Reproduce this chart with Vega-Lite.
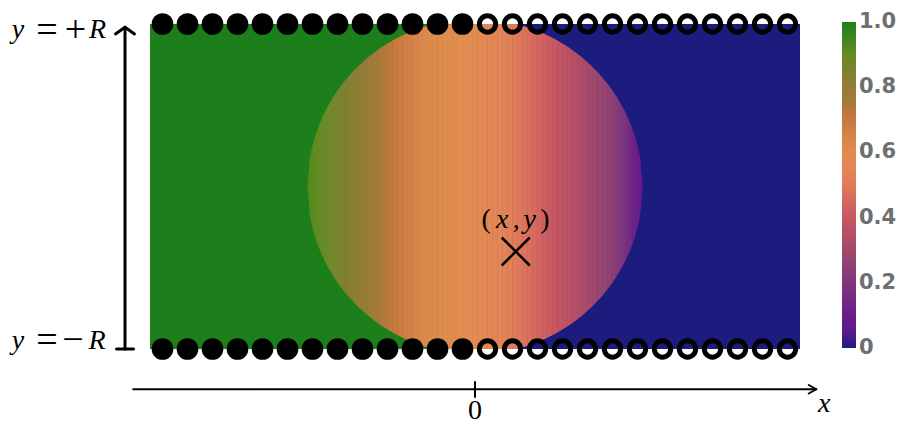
{
"$schema": "https://vega.github.io/schema/vega-lite/v6.json",
"width": 650, "height": 325,
"autosize": {"type": "none"},
"padding": {"left": 150, "top": 24, "right": 101, "bottom": 75},
"background": "white",
"config": {"view": {"stroke": null}},
"datasets": {
"outside": [
{"a":-13,"b":0,"lo":-6.5,"hi":6.5,"v":1},
{"a":0,"b":13,"lo":-6.5,"hi":6.5,"v":0}
],
"disk": [
{"s":1,"x":-6.7,"lo":0,"hi":0,"v":0.927},{"s":1,"x":-6.6,"lo":-1.153,"hi":1.153,"v":0.927},
{"s":2,"x":-6.6,"lo":-1.153,"hi":1.153,"v":0.921},{"s":2,"x":-6.5,"lo":-1.625,"hi":1.625,"v":0.921},
{"s":3,"x":-6.5,"lo":-1.625,"hi":1.625,"v":0.915},{"s":3,"x":-6.4,"lo":-1.982,"hi":1.982,"v":0.915},
{"s":4,"x":-6.4,"lo":-1.982,"hi":1.982,"v":0.909},{"s":4,"x":-6.3,"lo":-2.28,"hi":2.28,"v":0.909},
{"s":5,"x":-6.3,"lo":-2.28,"hi":2.28,"v":0.903},{"s":5,"x":-6.2,"lo":-2.54,"hi":2.54,"v":0.903},
{"s":6,"x":-6.2,"lo":-2.54,"hi":2.54,"v":0.897},{"s":6,"x":-6.1,"lo":-2.771,"hi":2.771,"v":0.897},
{"s":7,"x":-6.1,"lo":-2.771,"hi":2.771,"v":0.891},{"s":7,"x":-6,"lo":-2.982,"hi":2.982,"v":0.891},
{"s":8,"x":-6,"lo":-2.982,"hi":2.982,"v":0.885},{"s":8,"x":-5.9,"lo":-3.175,"hi":3.175,"v":0.885},
{"s":9,"x":-5.9,"lo":-3.175,"hi":3.175,"v":0.879},{"s":9,"x":-5.8,"lo":-3.354,"hi":3.354,"v":0.879},
{"s":10,"x":-5.8,"lo":-3.354,"hi":3.354,"v":0.873},{"s":10,"x":-5.7,"lo":-3.521,"hi":3.521,"v":0.873},
{"s":11,"x":-5.7,"lo":-3.521,"hi":3.521,"v":0.867},{"s":11,"x":-5.6,"lo":-3.678,"hi":3.678,"v":0.867},
{"s":12,"x":-5.6,"lo":-3.678,"hi":3.678,"v":0.861},{"s":12,"x":-5.5,"lo":-3.826,"hi":3.826,"v":0.861},
{"s":13,"x":-5.5,"lo":-3.826,"hi":3.826,"v":0.856},{"s":13,"x":-5.4,"lo":-3.966,"hi":3.966,"v":0.856},
{"s":14,"x":-5.4,"lo":-3.966,"hi":3.966,"v":0.85},{"s":14,"x":-5.3,"lo":-4.099,"hi":4.099,"v":0.85},
{"s":15,"x":-5.3,"lo":-4.099,"hi":4.099,"v":0.844},{"s":15,"x":-5.2,"lo":-4.225,"hi":4.225,"v":0.844},
{"s":16,"x":-5.2,"lo":-4.225,"hi":4.225,"v":0.838},{"s":16,"x":-5.1,"lo":-4.345,"hi":4.345,"v":0.838},
{"s":17,"x":-5.1,"lo":-4.345,"hi":4.345,"v":0.832},{"s":17,"x":-5,"lo":-4.46,"hi":4.46,"v":0.832},
{"s":18,"x":-5,"lo":-4.46,"hi":4.46,"v":0.826},{"s":18,"x":-4.9,"lo":-4.569,"hi":4.569,"v":0.826},
{"s":19,"x":-4.9,"lo":-4.569,"hi":4.569,"v":0.82},{"s":19,"x":-4.8,"lo":-4.674,"hi":4.674,"v":0.82},
{"s":20,"x":-4.8,"lo":-4.674,"hi":4.674,"v":0.815},{"s":20,"x":-4.7,"lo":-4.775,"hi":4.775,"v":0.815},
{"s":21,"x":-4.7,"lo":-4.775,"hi":4.775,"v":0.809},{"s":21,"x":-4.6,"lo":-4.871,"hi":4.871,"v":0.809},
{"s":22,"x":-4.6,"lo":-4.871,"hi":4.871,"v":0.803},{"s":22,"x":-4.5,"lo":-4.964,"hi":4.964,"v":0.803},
{"s":23,"x":-4.5,"lo":-4.964,"hi":4.964,"v":0.796},{"s":23,"x":-4.4,"lo":-5.053,"hi":5.053,"v":0.796},
{"s":24,"x":-4.4,"lo":-5.053,"hi":5.053,"v":0.789},{"s":24,"x":-4.3,"lo":-5.138,"hi":5.138,"v":0.789},
{"s":25,"x":-4.3,"lo":-5.138,"hi":5.138,"v":0.781},{"s":25,"x":-4.2,"lo":-5.22,"hi":5.22,"v":0.781},
{"s":26,"x":-4.2,"lo":-5.22,"hi":5.22,"v":0.773},{"s":26,"x":-4.1,"lo":-5.299,"hi":5.299,"v":0.773},
{"s":27,"x":-4.1,"lo":-5.299,"hi":5.299,"v":0.766},{"s":27,"x":-4,"lo":-5.375,"hi":5.375,"v":0.766},
{"s":28,"x":-4,"lo":-5.375,"hi":5.375,"v":0.758},{"s":28,"x":-3.9,"lo":-5.448,"hi":5.448,"v":0.758},
{"s":29,"x":-3.9,"lo":-5.448,"hi":5.448,"v":0.751},{"s":29,"x":-3.8,"lo":-5.518,"hi":5.518,"v":0.751},
{"s":30,"x":-3.8,"lo":-5.518,"hi":5.518,"v":0.743},{"s":30,"x":-3.7,"lo":-5.586,"hi":5.586,"v":0.743},
{"s":31,"x":-3.7,"lo":-5.586,"hi":5.586,"v":0.736},{"s":31,"x":-3.6,"lo":-5.651,"hi":5.651,"v":0.736},
{"s":32,"x":-3.6,"lo":-5.651,"hi":5.651,"v":0.728},{"s":32,"x":-3.5,"lo":-5.713,"hi":5.713,"v":0.728},
{"s":33,"x":-3.5,"lo":-5.713,"hi":5.713,"v":0.72},{"s":33,"x":-3.4,"lo":-5.773,"hi":5.773,"v":0.72},
{"s":34,"x":-3.4,"lo":-5.773,"hi":5.773,"v":0.713},{"s":34,"x":-3.3,"lo":-5.831,"hi":5.831,"v":0.713},
{"s":35,"x":-3.3,"lo":-5.831,"hi":5.831,"v":0.705},{"s":35,"x":-3.2,"lo":-5.886,"hi":5.886,"v":0.705},
{"s":36,"x":-3.2,"lo":-5.886,"hi":5.886,"v":0.698},{"s":36,"x":-3.1,"lo":-5.94,"hi":5.94,"v":0.698},
{"s":37,"x":-3.1,"lo":-5.94,"hi":5.94,"v":0.692},{"s":37,"x":-3,"lo":-5.991,"hi":5.991,"v":0.692},
{"s":38,"x":-3,"lo":-5.991,"hi":5.991,"v":0.686},{"s":38,"x":-2.9,"lo":-6.04,"hi":6.04,"v":0.686},
{"s":39,"x":-2.9,"lo":-6.04,"hi":6.04,"v":0.68},{"s":39,"x":-2.8,"lo":-6.087,"hi":6.087,"v":0.68},
{"s":40,"x":-2.8,"lo":-6.087,"hi":6.087,"v":0.674},{"s":40,"x":-2.7,"lo":-6.132,"hi":6.132,"v":0.674},
{"s":41,"x":-2.7,"lo":-6.132,"hi":6.132,"v":0.668},{"s":41,"x":-2.6,"lo":-6.175,"hi":6.175,"v":0.668},
{"s":42,"x":-2.6,"lo":-6.175,"hi":6.175,"v":0.662},{"s":42,"x":-2.5,"lo":-6.216,"hi":6.216,"v":0.662},
{"s":43,"x":-2.5,"lo":-6.216,"hi":6.216,"v":0.656},{"s":43,"x":-2.4,"lo":-6.255,"hi":6.255,"v":0.656},
{"s":44,"x":-2.4,"lo":-6.255,"hi":6.255,"v":0.65},{"s":44,"x":-2.3,"lo":-6.293,"hi":6.293,"v":0.65},
{"s":45,"x":-2.3,"lo":-6.293,"hi":6.293,"v":0.644},{"s":45,"x":-2.2,"lo":-6.329,"hi":6.329,"v":0.644},
{"s":46,"x":-2.2,"lo":-6.329,"hi":6.329,"v":0.638},{"s":46,"x":-2.1,"lo":-6.362,"hi":6.362,"v":0.638},
{"s":47,"x":-2.1,"lo":-6.362,"hi":6.362,"v":0.632},{"s":47,"x":-2,"lo":-6.395,"hi":6.395,"v":0.632},
{"s":48,"x":-2,"lo":-6.395,"hi":6.395,"v":0.625},{"s":48,"x":-1.9,"lo":-6.425,"hi":6.425,"v":0.625},
{"s":49,"x":-1.9,"lo":-6.425,"hi":6.425,"v":0.62},{"s":49,"x":-1.8,"lo":-6.454,"hi":6.454,"v":0.62},
{"s":50,"x":-1.8,"lo":-6.454,"hi":6.454,"v":0.617},{"s":50,"x":-1.7,"lo":-6.481,"hi":6.481,"v":0.617},
{"s":51,"x":-1.7,"lo":-6.481,"hi":6.481,"v":0.615},{"s":51,"x":-1.6,"lo":-6.5,"hi":6.5,"v":0.615},
{"s":52,"x":-1.6,"lo":-6.5,"hi":6.5,"v":0.612},{"s":52,"x":-1.5,"lo":-6.5,"hi":6.5,"v":0.612},
{"s":53,"x":-1.5,"lo":-6.5,"hi":6.5,"v":0.61},{"s":53,"x":-1.4,"lo":-6.5,"hi":6.5,"v":0.61},
{"s":54,"x":-1.4,"lo":-6.5,"hi":6.5,"v":0.607},{"s":54,"x":-1.3,"lo":-6.5,"hi":6.5,"v":0.607},
{"s":55,"x":-1.3,"lo":-6.5,"hi":6.5,"v":0.605},{"s":55,"x":-1.2,"lo":-6.5,"hi":6.5,"v":0.605},
{"s":56,"x":-1.2,"lo":-6.5,"hi":6.5,"v":0.602},{"s":56,"x":-1.1,"lo":-6.5,"hi":6.5,"v":0.602},
{"s":57,"x":-1.1,"lo":-6.5,"hi":6.5,"v":0.6},{"s":57,"x":-1,"lo":-6.5,"hi":6.5,"v":0.6},
{"s":58,"x":-1,"lo":-6.5,"hi":6.5,"v":0.597},{"s":58,"x":-0.9,"lo":-6.5,"hi":6.5,"v":0.597},
{"s":59,"x":-0.9,"lo":-6.5,"hi":6.5,"v":0.595},{"s":59,"x":-0.8,"lo":-6.5,"hi":6.5,"v":0.595},
{"s":60,"x":-0.8,"lo":-6.5,"hi":6.5,"v":0.592},{"s":60,"x":-0.7,"lo":-6.5,"hi":6.5,"v":0.592},
{"s":61,"x":-0.7,"lo":-6.5,"hi":6.5,"v":0.59},{"s":61,"x":-0.6,"lo":-6.5,"hi":6.5,"v":0.59},
{"s":62,"x":-0.6,"lo":-6.5,"hi":6.5,"v":0.587},{"s":62,"x":-0.5,"lo":-6.5,"hi":6.5,"v":0.587},
{"s":63,"x":-0.5,"lo":-6.5,"hi":6.5,"v":0.585},{"s":63,"x":-0.4,"lo":-6.5,"hi":6.5,"v":0.585},
{"s":64,"x":-0.4,"lo":-6.5,"hi":6.5,"v":0.582},{"s":64,"x":-0.3,"lo":-6.5,"hi":6.5,"v":0.582},
{"s":65,"x":-0.3,"lo":-6.5,"hi":6.5,"v":0.58},{"s":65,"x":-0.2,"lo":-6.5,"hi":6.5,"v":0.58},
{"s":66,"x":-0.2,"lo":-6.5,"hi":6.5,"v":0.577},{"s":66,"x":-0.1,"lo":-6.5,"hi":6.5,"v":0.577},
{"s":67,"x":-0.1,"lo":-6.5,"hi":6.5,"v":0.574},{"s":67,"x":0,"lo":-6.5,"hi":6.5,"v":0.574},
{"s":68,"x":0,"lo":-6.5,"hi":6.5,"v":0.571},{"s":68,"x":0.1,"lo":-6.5,"hi":6.5,"v":0.571},
{"s":69,"x":0.1,"lo":-6.5,"hi":6.5,"v":0.569},{"s":69,"x":0.2,"lo":-6.5,"hi":6.5,"v":0.569},
{"s":70,"x":0.2,"lo":-6.5,"hi":6.5,"v":0.566},{"s":70,"x":0.3,"lo":-6.5,"hi":6.5,"v":0.566},
{"s":71,"x":0.3,"lo":-6.5,"hi":6.5,"v":0.563},{"s":71,"x":0.4,"lo":-6.5,"hi":6.5,"v":0.563},
{"s":72,"x":0.4,"lo":-6.5,"hi":6.5,"v":0.56},{"s":72,"x":0.5,"lo":-6.5,"hi":6.5,"v":0.56},
{"s":73,"x":0.5,"lo":-6.5,"hi":6.5,"v":0.557},{"s":73,"x":0.6,"lo":-6.5,"hi":6.5,"v":0.557},
{"s":74,"x":0.6,"lo":-6.5,"hi":6.5,"v":0.554},{"s":74,"x":0.7,"lo":-6.5,"hi":6.5,"v":0.554},
{"s":75,"x":0.7,"lo":-6.5,"hi":6.5,"v":0.551},{"s":75,"x":0.8,"lo":-6.5,"hi":6.5,"v":0.551},
{"s":76,"x":0.8,"lo":-6.5,"hi":6.5,"v":0.548},{"s":76,"x":0.9,"lo":-6.5,"hi":6.5,"v":0.548},
{"s":77,"x":0.9,"lo":-6.5,"hi":6.5,"v":0.545},{"s":77,"x":1,"lo":-6.5,"hi":6.5,"v":0.545},
{"s":78,"x":1,"lo":-6.5,"hi":6.5,"v":0.543},{"s":78,"x":1.1,"lo":-6.5,"hi":6.5,"v":0.543},
{"s":79,"x":1.1,"lo":-6.5,"hi":6.5,"v":0.539},{"s":79,"x":1.2,"lo":-6.5,"hi":6.5,"v":0.539},
{"s":80,"x":1.2,"lo":-6.5,"hi":6.5,"v":0.533},{"s":80,"x":1.3,"lo":-6.5,"hi":6.5,"v":0.533},
{"s":81,"x":1.3,"lo":-6.5,"hi":6.5,"v":0.526},{"s":81,"x":1.4,"lo":-6.5,"hi":6.5,"v":0.526},
{"s":82,"x":1.4,"lo":-6.5,"hi":6.5,"v":0.52},{"s":82,"x":1.5,"lo":-6.5,"hi":6.5,"v":0.52},
{"s":83,"x":1.5,"lo":-6.5,"hi":6.5,"v":0.513},{"s":83,"x":1.6,"lo":-6.5,"hi":6.5,"v":0.513},
{"s":84,"x":1.6,"lo":-6.5,"hi":6.5,"v":0.506},{"s":84,"x":1.7,"lo":-6.481,"hi":6.481,"v":0.506},
{"s":85,"x":1.7,"lo":-6.481,"hi":6.481,"v":0.5},{"s":85,"x":1.8,"lo":-6.454,"hi":6.454,"v":0.5},
{"s":86,"x":1.8,"lo":-6.454,"hi":6.454,"v":0.493},{"s":86,"x":1.9,"lo":-6.425,"hi":6.425,"v":0.493},
{"s":87,"x":1.9,"lo":-6.425,"hi":6.425,"v":0.486},{"s":87,"x":2,"lo":-6.395,"hi":6.395,"v":0.486},
{"s":88,"x":2,"lo":-6.395,"hi":6.395,"v":0.48},{"s":88,"x":2.1,"lo":-6.362,"hi":6.362,"v":0.48},
{"s":89,"x":2.1,"lo":-6.362,"hi":6.362,"v":0.473},{"s":89,"x":2.2,"lo":-6.329,"hi":6.329,"v":0.473},
{"s":90,"x":2.2,"lo":-6.329,"hi":6.329,"v":0.467},{"s":90,"x":2.3,"lo":-6.293,"hi":6.293,"v":0.467},
{"s":91,"x":2.3,"lo":-6.293,"hi":6.293,"v":0.46},{"s":91,"x":2.4,"lo":-6.255,"hi":6.255,"v":0.46},
{"s":92,"x":2.4,"lo":-6.255,"hi":6.255,"v":0.453},{"s":92,"x":2.5,"lo":-6.216,"hi":6.216,"v":0.453},
{"s":93,"x":2.5,"lo":-6.216,"hi":6.216,"v":0.447},{"s":93,"x":2.6,"lo":-6.175,"hi":6.175,"v":0.447},
{"s":94,"x":2.6,"lo":-6.175,"hi":6.175,"v":0.44},{"s":94,"x":2.7,"lo":-6.132,"hi":6.132,"v":0.44},
{"s":95,"x":2.7,"lo":-6.132,"hi":6.132,"v":0.433},{"s":95,"x":2.8,"lo":-6.087,"hi":6.087,"v":0.433},
{"s":96,"x":2.8,"lo":-6.087,"hi":6.087,"v":0.427},{"s":96,"x":2.9,"lo":-6.04,"hi":6.04,"v":0.427},
{"s":97,"x":2.9,"lo":-6.04,"hi":6.04,"v":0.42},{"s":97,"x":3,"lo":-5.991,"hi":5.991,"v":0.42},
{"s":98,"x":3,"lo":-5.991,"hi":5.991,"v":0.413},{"s":98,"x":3.1,"lo":-5.94,"hi":5.94,"v":0.413},
{"s":99,"x":3.1,"lo":-5.94,"hi":5.94,"v":0.407},{"s":99,"x":3.2,"lo":-5.886,"hi":5.886,"v":0.407},
{"s":100,"x":3.2,"lo":-5.886,"hi":5.886,"v":0.4},{"s":100,"x":3.3,"lo":-5.831,"hi":5.831,"v":0.4},
{"s":101,"x":3.3,"lo":-5.831,"hi":5.831,"v":0.393},{"s":101,"x":3.4,"lo":-5.773,"hi":5.773,"v":0.393},
{"s":102,"x":3.4,"lo":-5.773,"hi":5.773,"v":0.387},{"s":102,"x":3.5,"lo":-5.713,"hi":5.713,"v":0.387},
{"s":103,"x":3.5,"lo":-5.713,"hi":5.713,"v":0.38},{"s":103,"x":3.6,"lo":-5.651,"hi":5.651,"v":0.38},
{"s":104,"x":3.6,"lo":-5.651,"hi":5.651,"v":0.373},{"s":104,"x":3.7,"lo":-5.586,"hi":5.586,"v":0.373},
{"s":105,"x":3.7,"lo":-5.586,"hi":5.586,"v":0.367},{"s":105,"x":3.8,"lo":-5.518,"hi":5.518,"v":0.367},
{"s":106,"x":3.8,"lo":-5.518,"hi":5.518,"v":0.36},{"s":106,"x":3.9,"lo":-5.448,"hi":5.448,"v":0.36},
{"s":107,"x":3.9,"lo":-5.448,"hi":5.448,"v":0.353},{"s":107,"x":4,"lo":-5.375,"hi":5.375,"v":0.353},
{"s":108,"x":4,"lo":-5.375,"hi":5.375,"v":0.347},{"s":108,"x":4.1,"lo":-5.299,"hi":5.299,"v":0.347},
{"s":109,"x":4.1,"lo":-5.299,"hi":5.299,"v":0.34},{"s":109,"x":4.2,"lo":-5.22,"hi":5.22,"v":0.34},
{"s":110,"x":4.2,"lo":-5.22,"hi":5.22,"v":0.333},{"s":110,"x":4.3,"lo":-5.138,"hi":5.138,"v":0.333},
{"s":111,"x":4.3,"lo":-5.138,"hi":5.138,"v":0.327},{"s":111,"x":4.4,"lo":-5.053,"hi":5.053,"v":0.327},
{"s":112,"x":4.4,"lo":-5.053,"hi":5.053,"v":0.32},{"s":112,"x":4.5,"lo":-4.964,"hi":4.964,"v":0.32},
{"s":113,"x":4.5,"lo":-4.964,"hi":4.964,"v":0.313},{"s":113,"x":4.6,"lo":-4.871,"hi":4.871,"v":0.313},
{"s":114,"x":4.6,"lo":-4.871,"hi":4.871,"v":0.307},{"s":114,"x":4.7,"lo":-4.775,"hi":4.775,"v":0.307},
{"s":115,"x":4.7,"lo":-4.775,"hi":4.775,"v":0.3},{"s":115,"x":4.8,"lo":-4.674,"hi":4.674,"v":0.3},
{"s":116,"x":4.8,"lo":-4.674,"hi":4.674,"v":0.293},{"s":116,"x":4.9,"lo":-4.569,"hi":4.569,"v":0.293},
{"s":117,"x":4.9,"lo":-4.569,"hi":4.569,"v":0.286},{"s":117,"x":5,"lo":-4.46,"hi":4.46,"v":0.286},
{"s":118,"x":5,"lo":-4.46,"hi":4.46,"v":0.278},{"s":118,"x":5.1,"lo":-4.345,"hi":4.345,"v":0.278},
{"s":119,"x":5.1,"lo":-4.345,"hi":4.345,"v":0.27},{"s":119,"x":5.2,"lo":-4.225,"hi":4.225,"v":0.27},
{"s":120,"x":5.2,"lo":-4.225,"hi":4.225,"v":0.263},{"s":120,"x":5.3,"lo":-4.099,"hi":4.099,"v":0.263},
{"s":121,"x":5.3,"lo":-4.099,"hi":4.099,"v":0.255},{"s":121,"x":5.4,"lo":-3.966,"hi":3.966,"v":0.255},
{"s":122,"x":5.4,"lo":-3.966,"hi":3.966,"v":0.247},{"s":122,"x":5.5,"lo":-3.826,"hi":3.826,"v":0.247},
{"s":123,"x":5.5,"lo":-3.826,"hi":3.826,"v":0.239},{"s":123,"x":5.6,"lo":-3.678,"hi":3.678,"v":0.239},
{"s":124,"x":5.6,"lo":-3.678,"hi":3.678,"v":0.226},{"s":124,"x":5.7,"lo":-3.521,"hi":3.521,"v":0.226},
{"s":125,"x":5.7,"lo":-3.521,"hi":3.521,"v":0.214},{"s":125,"x":5.8,"lo":-3.354,"hi":3.354,"v":0.214},
{"s":126,"x":5.8,"lo":-3.354,"hi":3.354,"v":0.201},{"s":126,"x":5.9,"lo":-3.175,"hi":3.175,"v":0.201},
{"s":127,"x":5.9,"lo":-3.175,"hi":3.175,"v":0.189},{"s":127,"x":6,"lo":-2.982,"hi":2.982,"v":0.189},
{"s":128,"x":6,"lo":-2.982,"hi":2.982,"v":0.176},{"s":128,"x":6.1,"lo":-2.771,"hi":2.771,"v":0.176},
{"s":129,"x":6.1,"lo":-2.771,"hi":2.771,"v":0.161},{"s":129,"x":6.2,"lo":-2.54,"hi":2.54,"v":0.161},
{"s":130,"x":6.2,"lo":-2.54,"hi":2.54,"v":0.144},{"s":130,"x":6.3,"lo":-2.28,"hi":2.28,"v":0.144},
{"s":131,"x":6.3,"lo":-2.28,"hi":2.28,"v":0.126},{"s":131,"x":6.4,"lo":-1.982,"hi":1.982,"v":0.126},
{"s":132,"x":6.4,"lo":-1.982,"hi":1.982,"v":0.109},{"s":132,"x":6.5,"lo":-1.625,"hi":1.625,"v":0.109},
{"s":133,"x":6.5,"lo":-1.625,"hi":1.625,"v":0.093},{"s":133,"x":6.6,"lo":-1.153,"hi":1.153,"v":0.093},
{"s":134,"x":6.6,"lo":-1.153,"hi":1.153,"v":0.078},{"s":134,"x":6.7,"lo":0,"hi":0,"v":0.078}
],
"sites": [
{"cx":-12.5,"cy":6.5,"occupied":true},{"cx":-11.5,"cy":6.5,"occupied":true},{"cx":-10.5,"cy":6.5,"occupied":true},{"cx":-9.5,"cy":6.5,"occupied":true},{"cx":-8.5,"cy":6.5,"occupied":true},{"cx":-7.5,"cy":6.5,"occupied":true},{"cx":-6.5,"cy":6.5,"occupied":true},{"cx":-5.5,"cy":6.5,"occupied":true},{"cx":-4.5,"cy":6.5,"occupied":true},{"cx":-3.5,"cy":6.5,"occupied":true},{"cx":-2.5,"cy":6.5,"occupied":true},{"cx":-1.5,"cy":6.5,"occupied":true},{"cx":-0.5,"cy":6.5,"occupied":true},
{"cx":0.5,"cy":6.5,"occupied":false},{"cx":1.5,"cy":6.5,"occupied":false},{"cx":2.5,"cy":6.5,"occupied":false},{"cx":3.5,"cy":6.5,"occupied":false},{"cx":4.5,"cy":6.5,"occupied":false},{"cx":5.5,"cy":6.5,"occupied":false},{"cx":6.5,"cy":6.5,"occupied":false},{"cx":7.5,"cy":6.5,"occupied":false},{"cx":8.5,"cy":6.5,"occupied":false},{"cx":9.5,"cy":6.5,"occupied":false},{"cx":10.5,"cy":6.5,"occupied":false},{"cx":11.5,"cy":6.5,"occupied":false},{"cx":12.5,"cy":6.5,"occupied":false},
{"cx":-12.5,"cy":-6.5,"occupied":true},{"cx":-11.5,"cy":-6.5,"occupied":true},{"cx":-10.5,"cy":-6.5,"occupied":true},{"cx":-9.5,"cy":-6.5,"occupied":true},{"cx":-8.5,"cy":-6.5,"occupied":true},{"cx":-7.5,"cy":-6.5,"occupied":true},{"cx":-6.5,"cy":-6.5,"occupied":true},{"cx":-5.5,"cy":-6.5,"occupied":true},{"cx":-4.5,"cy":-6.5,"occupied":true},{"cx":-3.5,"cy":-6.5,"occupied":true},{"cx":-2.5,"cy":-6.5,"occupied":true},{"cx":-1.5,"cy":-6.5,"occupied":true},{"cx":-0.5,"cy":-6.5,"occupied":true},
{"cx":0.5,"cy":-6.5,"occupied":false},{"cx":1.5,"cy":-6.5,"occupied":false},{"cx":2.5,"cy":-6.5,"occupied":false},{"cx":3.5,"cy":-6.5,"occupied":false},{"cx":4.5,"cy":-6.5,"occupied":false},{"cx":5.5,"cy":-6.5,"occupied":false},{"cx":6.5,"cy":-6.5,"occupied":false},{"cx":7.5,"cy":-6.5,"occupied":false},{"cx":8.5,"cy":-6.5,"occupied":false},{"cx":9.5,"cy":-6.5,"occupied":false},{"cx":10.5,"cy":-6.5,"occupied":false},{"cx":11.5,"cy":-6.5,"occupied":false},{"cx":12.5,"cy":-6.5,"occupied":false}
],
"yarrow": [
{"x1":-14,"y1":-6.5,"x2":-14,"y2":6.37},
{"x1":-14.38,"y1":6.1,"x2":-14,"y2":6.37},
{"x1":-13.62,"y1":6.1,"x2":-14,"y2":6.37},
{"x1":-14.34,"y1":-6.5,"x2":-13.66,"y2":-6.5}
],
"xarrow": [
{"x1":-13.67,"y1":-8.11,"x2":13.64,"y2":-8.11},
{"x1":13.35,"y1":-7.94,"x2":13.65,"y2":-8.11},
{"x1":13.35,"y1":-8.28,"x2":13.65,"y2":-8.11},
{"x1":0,"y1":-7.82,"x2":0,"y2":-8.42}
],
"probe": [{"px":1.63,"py":-2.6}],
"italic": [
{"tx":-18.28,"ty":5.93,"t":"y"},{"tx":-15.1,"ty":5.93,"t":"R"},
{"tx":-18.28,"ty":-6.5,"t":"y"},{"tx":-15.12,"ty":-6.5,"t":"R"},
{"tx":1.09,"ty":-1.67,"t":"x"},{"tx":2.19,"ty":-1.67,"t":"y"},
{"tx":13.97,"ty":-9.01,"t":"x"}
],
"operators": [
{"tx":-17.12,"ty":5.8,"t":"="},{"tx":-15.98,"ty":5.8,"t":"+"},
{"tx":-17.12,"ty":-6.63,"t":"="},{"tx":-16.08,"ty":-6.63,"t":"−"}
],
"upright": [
{"tx":0.45,"ty":-1.67,"t":"("},{"tx":1.65,"ty":-1.67,"t":","},{"tx":2.8,"ty":-1.67,"t":")"},
{"tx":0,"ty":-9.3,"t":"0"}
]
},
"layer": [
{
"data": {"name": "outside"},
"mark": {"type": "rect"},
"encoding": {
"x": {"field": "a", "type": "quantitative", "scale": {"domain": [-13, 13], "nice": false, "zero": false}, "axis": null},
"x2": {"field": "b"},
"y": {"field": "lo", "type": "quantitative", "scale": {"domain": [-6.5, 6.5], "nice": false, "zero": false}, "axis": null},
"y2": {"field": "hi"},
"color": {"field": "v", "type": "quantitative",
"scale": {"type": "linear", "interpolate": "rgb",
"domain": [0, 0.008, 0.02, 0.07, 0.1, 0.17, 0.24, 0.29, 0.33, 0.37, 0.41, 0.45, 0.5, 0.54, 0.58, 0.62, 0.65, 0.7, 0.75, 0.8, 0.84, 0.88, 0.92, 0.97, 1],
"range": ["#1c1c7f", "#6a1030", "#4c1c8c", "#621a8e", "#6a1c8c", "#782e82", "#8a4074", "#9c466e", "#ae4c68", "#bc5264", "#c85860", "#d46860", "#e07a5a", "#e28458", "#e48c50", "#de8a4c", "#d8844a", "#c8783e", "#a87a3a", "#947c36", "#808030", "#6f8a28", "#5a8a20", "#2e841c", "#1c7f1c"]},
"legend": {"type": "gradient", "title": null, "orient": "none", "legendX": 692, "legendY": -2, "direction": "vertical",
"gradientLength": 326, "gradientThickness": 14, "gradientStrokeWidth": 0,
"values": [0, 0.2, 0.4, 0.6, 0.8, 1],
"labelExpr": "datum.value == 0 ? '0' : format(datum.value, '.1f')",
"labelFont": "DejaVu Sans", "labelFontWeight": "bold", "labelFontSize": 21, "labelColor": "#6f6f6f",
"labelBaseline": "middle",
"labelOffset": 3, "labelOverlap": false,
"encode": {"labels": {"update": {"baseline": {"value": "middle"}}}}}}
}
},
{
"data": {"name": "disk"},
"mark": {"type": "area", "opacity": 1},
"encoding": {
"x": {"field": "x", "type": "quantitative", "scale": {"domain": [-13, 13], "nice": false, "zero": false}, "axis": null},
"y": {"field": "lo", "type": "quantitative", "scale": {"domain": [-6.5, 6.5], "nice": false, "zero": false}, "axis": null},
"y2": {"field": "hi"},
"detail": {"field": "s", "type": "nominal"},
"color": {"field": "v", "type": "quantitative"}
}
},
{
"data": {"name": "disk"},
"mark": {"type": "area", "opacity": 1},
"encoding": {
"x": {"field": "x", "type": "quantitative", "scale": {"domain": [-13, 13], "nice": false, "zero": false}, "axis": null},
"y": {"field": "lo", "type": "quantitative", "scale": {"domain": [-6.5, 6.5], "nice": false, "zero": false}, "axis": null},
"y2": {"field": "hi"},
"detail": {"field": "s", "type": "nominal"},
"color": {"field": "v", "type": "quantitative"}
}
},
{
"data": {"name": "sites"},
"transform": [{"filter": "datum.occupied"}],
"mark": {"type": "point", "shape": "circle", "filled": true, "size": 468, "color": "black", "opacity": 1, "strokeWidth": 0},
"encoding": {
"x": {"field": "cx", "type": "quantitative", "scale": {"domain": [-13, 13], "nice": false, "zero": false}, "axis": null},
"y": {"field": "cy", "type": "quantitative", "scale": {"domain": [-6.5, 6.5], "nice": false, "zero": false}, "axis": null}
}
},
{
"data": {"name": "sites"},
"transform": [{"filter": "!datum.occupied"}],
"mark": {"type": "point", "shape": "circle", "filled": false, "size": 266, "stroke": "black", "strokeWidth": 5, "opacity": 1},
"encoding": {
"x": {"field": "cx", "type": "quantitative", "scale": {"domain": [-13, 13], "nice": false, "zero": false}, "axis": null},
"y": {"field": "cy", "type": "quantitative", "scale": {"domain": [-6.5, 6.5], "nice": false, "zero": false}, "axis": null}
}
},
{
"data": {"name": "yarrow"},
"mark": {"type": "rule", "color": "black", "strokeWidth": 3, "strokeCap": "round"},
"encoding": {
"x": {"field": "x1", "type": "quantitative", "scale": {"domain": [-13, 13], "nice": false, "zero": false}, "axis": null},
"y": {"field": "y1", "type": "quantitative", "scale": {"domain": [-6.5, 6.5], "nice": false, "zero": false}, "axis": null},
"x2": {"field": "x2"},
"y2": {"field": "y2"}
}
},
{
"data": {"name": "xarrow"},
"mark": {"type": "rule", "color": "black", "strokeWidth": 2, "strokeCap": "round"},
"encoding": {
"x": {"field": "x1", "type": "quantitative", "scale": {"domain": [-13, 13], "nice": false, "zero": false}, "axis": null},
"y": {"field": "y1", "type": "quantitative", "scale": {"domain": [-6.5, 6.5], "nice": false, "zero": false}, "axis": null},
"x2": {"field": "x2"},
"y2": {"field": "y2"}
}
},
{
"data": {"name": "italic"},
"mark": {"type": "text", "font": "Liberation Serif", "fontStyle": "italic", "fontSize": 28, "align": "center", "baseline": "alphabetic", "color": "black"},
"encoding": {
"x": {"field": "tx", "type": "quantitative", "scale": {"domain": [-13, 13], "nice": false, "zero": false}, "axis": null},
"y": {"field": "ty", "type": "quantitative", "scale": {"domain": [-6.5, 6.5], "nice": false, "zero": false}, "axis": null},
"text": {"field": "t"}
}
},
{
"data": {"name": "operators"},
"mark": {"type": "text", "font": "Liberation Serif", "fontSize": 38, "align": "center", "baseline": "alphabetic", "color": "black"},
"encoding": {
"x": {"field": "tx", "type": "quantitative", "scale": {"domain": [-13, 13], "nice": false, "zero": false}, "axis": null},
"y": {"field": "ty", "type": "quantitative", "scale": {"domain": [-6.5, 6.5], "nice": false, "zero": false}, "axis": null},
"text": {"field": "t"}
}
},
{
"data": {"name": "upright"},
"mark": {"type": "text", "font": "Liberation Serif", "fontSize": 28, "align": "center", "baseline": "alphabetic", "color": "black"},
"encoding": {
"x": {"field": "tx", "type": "quantitative", "scale": {"domain": [-13, 13], "nice": false, "zero": false}, "axis": null},
"y": {"field": "ty", "type": "quantitative", "scale": {"domain": [-6.5, 6.5], "nice": false, "zero": false}, "axis": null},
"text": {"field": "t"}
}
},
{
"data": {"name": "probe"},
"mark": {"type": "point", "shape": "M-1,-1L1,1M-1,1L1,-1", "filled": false, "size": 784, "stroke": "black", "strokeWidth": 2.5, "opacity": 1},
"encoding": {
"x": {"field": "px", "type": "quantitative", "scale": {"domain": [-13, 13], "nice": false, "zero": false}, "axis": null},
"y": {"field": "py", "type": "quantitative", "scale": {"domain": [-6.5, 6.5], "nice": false, "zero": false}, "axis": null}
}
}
]
}
